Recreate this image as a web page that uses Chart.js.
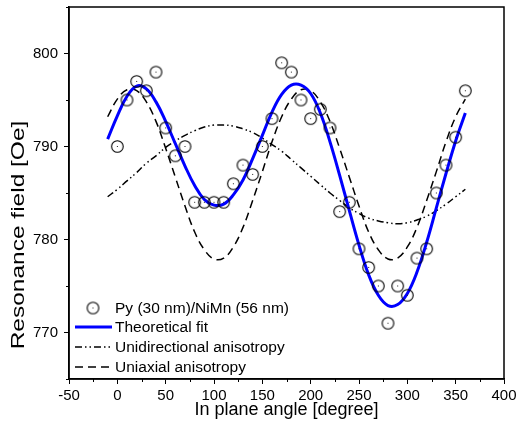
<!DOCTYPE html>
<html>
<head>
<meta charset="utf-8">
<script src="https://cdn.jsdelivr.net/npm/chart.js@4.4.1/dist/chart.umd.min.js"></script>
<style>
  html, body { margin: 0; padding: 0; background: #fff; }
  #wrap { width: 519px; height: 432px; position: relative; }
</style>
</head>
<body>
<div id="wrap"><canvas id="c" width="519" height="432"></canvas></div>
<script>
// ---- data ----
const angles = [0,10,20,30,40,50,60,70,80,90,100,110,120,130,140,150,160,170,180,190,200,210,220,230,240,250,260,270,280,290,300,310,320,330,340,350,360];
const field  = [790,795,797,796,798,792,789,790,784,784,784,784,786,788,787,790,793,799,798,795,793,794,792,783,784,779,777,775,771,775,774,778,779,785,788,791,796];

const curveAngles = [-10,0,10,20,30,40,50,60,70,80,90,100,110,120,130,140,150,160,170,180,190,200,210,220,230,240,250,260,270,280,290,300,310,320,330,340,350,360];
const fitField    = [790.8,793.3,795.4,796.5,796.2,794.8,792.7,790.3,787.9,785.8,784.3,783.7,783.8,784.8,786.4,788.7,791.2,793.7,795.6,796.6,796.6,795.7,793.6,790.5,786.9,783.1,779.4,776.2,774.0,772.9,773.0,774.2,776.5,779.7,783.4,787.1,790.6,793.6];
const unidirField = [784.6,785.4,786.3,787.2,788.2,789.0,789.9,790.6,791.2,791.7,792.1,792.3,792.3,792.2,791.9,791.5,790.9,790.2,789.5,788.6,787.7,786.8,785.9,785.0,784.2,783.4,782.8,782.3,782.0,781.8,781.7,781.8,782.1,782.5,783.1,783.8,784.6,785.4];
const uniaxField  = [793.2,795.1,796.1,796.0,794.8,792.7,789.8,786.7,783.6,780.8,778.9,777.9,778.0,779.2,781.3,784.2,787.3,790.5,793.2,795.1,796.1,796.0,794.8,792.7,789.8,786.7,783.6,780.8,778.9,777.9,778.0,779.2,781.3,784.2,787.3,790.5,793.2,795.1];

const xTicks = [-50,0,50,100,150,200,250,300,350,400];
const yTicks = [770,780,790,800];
const xMinorTicks = [-25,25,75,125,175,225,275,325,375];
const yMinorTicks = [765,775,785,795,805];

const seriesNames = ['Py (30 nm)/NiMn (56 nm)','Theoretical fit','Unidirectional anisotropy','Uniaxial anisotropy'];
const xTitle = 'In plane angle [degree]';
const yTitle = 'Resonance field [Oe]';

// ---- styles ----
const FONT = '"Liberation Sans", Arial, sans-serif';
const DASHDOT = [7,3,1.5,3,1.5,3];
const DASH = [8,5];

function makeMarker() {
  const s = 15, c = document.createElement('canvas');
  c.width = s; c.height = s;
  const g = c.getContext('2d');
  g.strokeStyle = '#000'; g.lineWidth = 1.1;
  g.beginPath(); g.arc(7.5, 7.5, 5.8, 0, Math.PI*2); g.stroke();
  g.fillStyle = '#222'; g.fillRect(7, 7, 1, 1);
  return c;
}
const marker = makeMarker();

const pts = (xs, ys) => xs.map((x,i) => ({x, y: ys[i]}));

const decorations = {
  id: 'decorations',
  afterDraw(chart) {
    const {ctx, chartArea: a, scales} = chart;
    ctx.save();
    ctx.strokeStyle = '#000';
    ctx.lineWidth = 1.5;
    ctx.strokeRect(a.left, a.top, a.right - a.left, a.bottom - a.top);
    ctx.lineWidth = 1;
    ctx.beginPath();
    xMinorTicks.forEach(v => {
      const px = Math.round(scales.x.getPixelForValue(v)) + 0.5;
      ctx.moveTo(px, a.bottom); ctx.lineTo(px, a.bottom + 3);
    });
    yMinorTicks.forEach(v => {
      const py = Math.round(scales.y.getPixelForValue(v)) + 0.5;
      ctx.moveTo(a.left, py); ctx.lineTo(a.left - 3, py);
    });
    ctx.stroke();

    // y axis title (wide lettering as in the reference)
    ctx.save();
    ctx.translate(19, 235);
    ctx.rotate(-Math.PI / 2);
    ctx.scale(1.36, 1);
    ctx.font = '18px ' + FONT;
    ctx.fillStyle = '#000';
    ctx.textAlign = 'center'; ctx.textBaseline = 'middle';
    ctx.fillText(yTitle, 0, 0);
    ctx.restore();

    // legend inside the plot, bottom-left
    const rows = [308, 327, 347, 367];
    const x0 = 75, x1 = 112, tx = 115;
    ctx.drawImage(marker, 93 - 7.5, rows[0] - 7.5);
    ctx.lineCap = 'butt';
    ctx.strokeStyle = '#0000ff'; ctx.lineWidth = 3; ctx.setLineDash([]);
    ctx.beginPath(); ctx.moveTo(x0, rows[1]); ctx.lineTo(x1, rows[1]); ctx.stroke();
    ctx.strokeStyle = '#000'; ctx.lineWidth = 1.5; ctx.setLineDash(DASHDOT);
    ctx.beginPath(); ctx.moveTo(x0, rows[2]); ctx.lineTo(x1, rows[2]); ctx.stroke();
    ctx.setLineDash(DASH);
    ctx.beginPath(); ctx.moveTo(x0, rows[3]); ctx.lineTo(x1, rows[3]); ctx.stroke();
    ctx.setLineDash([]);
    ctx.fillStyle = '#000';
    ctx.font = '15.5px ' + FONT;
    ctx.textBaseline = 'middle'; ctx.textAlign = 'left';
    seriesNames.forEach((t, i) => ctx.fillText(t, tx, rows[i] + 1));
    ctx.restore();
  }
};

new Chart(document.getElementById('c'), {
  type: 'scatter',
  data: {
    datasets: [
      { label: seriesNames[0], data: pts(angles, field), showLine: false,
        pointStyle: marker, pointRadius: 6, pointHoverRadius: 6 },
      { label: seriesNames[1], data: pts(curveAngles, fitField), showLine: true,
        borderColor: '#0000ff', borderWidth: 3, pointRadius: 0, tension: 0.4, fill: false },
      { label: seriesNames[2], data: pts(curveAngles, unidirField), showLine: true,
        borderColor: '#000', borderWidth: 1.5, borderDash: DASHDOT, pointRadius: 0, tension: 0.4, fill: false },
      { label: seriesNames[3], data: pts(curveAngles, uniaxField), showLine: true,
        borderColor: '#000', borderWidth: 1.5, borderDash: DASH, pointRadius: 0, tension: 0.4, fill: false }
    ]
  },
  options: {
    responsive: false,
    animation: false,
    events: [],
    layout: { padding: { left: 0, top: 5, right: 15, bottom: 0 } },
    plugins: { legend: { display: false }, tooltip: { enabled: false } },
    scales: {
      x: {
        type: 'linear', min: -50, max: 400,
        afterBuildTicks: s => { s.ticks = xTicks.map(v => ({value: v})); },
        afterFit: s => { s.height = 53; s.paddingLeft = 0; s.paddingRight = 0; },
        border: { color: '#000', width: 1.5 },
        grid: { drawOnChartArea: false, drawTicks: true, tickLength: 5, tickColor: '#000', tickWidth: 1 },
        ticks: { color: '#000', padding: 3, maxRotation: 0, autoSkip: false, font: { family: FONT, size: 15 } },
        title: { display: true, text: xTitle, color: '#000',
                 font: { family: FONT, size: 18 }, padding: { top: 0, bottom: 11 } }
      },
      y: {
        type: 'linear', min: 765, max: 805,
        afterBuildTicks: s => { s.ticks = yTicks.map(v => ({value: v})); },
        afterFit: s => { s.width = 69; s.paddingTop = 0; s.paddingBottom = 0; },
        border: { color: '#000', width: 1.5 },
        grid: { drawOnChartArea: false, drawTicks: true, tickLength: 5, tickColor: '#000', tickWidth: 1 },
        ticks: { color: '#000', padding: 6, autoSkip: false, font: { family: FONT, size: 15 } },
        title: { display: false }
      }
    }
  },
  plugins: [decorations]
});
</script>
</body>
</html>
